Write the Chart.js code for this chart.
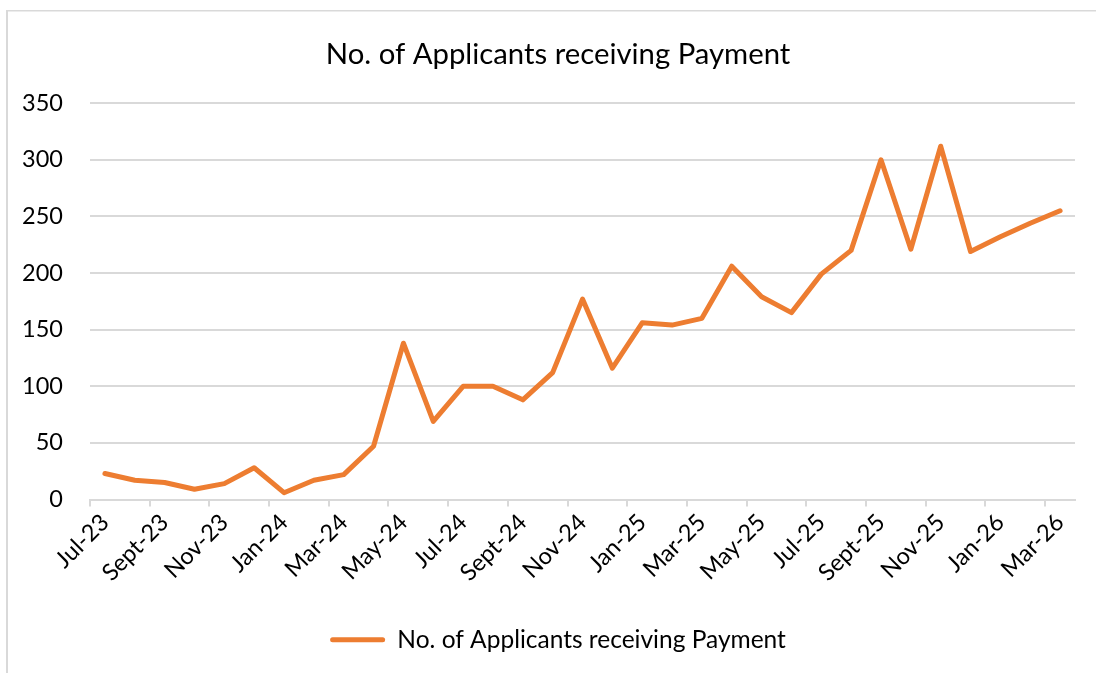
<!DOCTYPE html>
<html>
<head>
<meta charset="utf-8">
<script src="https://cdn.jsdelivr.net/npm/chart.js@4.4.1/dist/chart.umd.min.js"></script>
<style>
  html, body { margin: 0; padding: 0; background: #ffffff; }
  #wrap { position: relative; width: 1096px; height: 673px; }
  canvas { display: block; }
</style>
</head>
<body>
<div id="wrap"><canvas id="c" width="1096" height="673"></canvas></div>
<script>
const chartTitle = 'No. of Applicants receiving Payment';
const seriesName = 'No. of Applicants receiving Payment';
const months = ['Jul-23','Aug-23','Sept-23','Oct-23','Nov-23','Dec-23',
  'Jan-24','Feb-24','Mar-24','Apr-24','May-24','Jun-24','Jul-24','Aug-24','Sept-24','Oct-24','Nov-24','Dec-24',
  'Jan-25','Feb-25','Mar-25','Apr-25','May-25','Jun-25','Jul-25','Aug-25','Sept-25','Oct-25','Nov-25','Dec-25',
  'Jan-26','Feb-26','Mar-26'];
const applicants = [23,17,15,9,14,28,6,17,22,47,138,69,100,100,88,112,177,116,
  156,154,160,206,179,165,199,220,300,221,312,219,232,244,255];
const yTicks = [0,50,100,150,200,250,300,350];

const FONT = 'Lato, "Open Sans", sans-serif';
const ORANGE = '#ED7D31';
const GRID = '#d9d9d9';

const borderPlugin = {
  id: 'frame',
  beforeDraw(chart) {
    const ctx = chart.ctx;
    ctx.save();
    ctx.fillStyle = '#ffffff';
    ctx.fillRect(0, 0, chart.width, chart.height);
    ctx.fillStyle = GRID;
    ctx.fillRect(6, 10, 2, chart.height - 10);
    ctx.fillRect(6, 10, chart.width - 6, 1.5);
    ctx.restore();
  },
  afterLayout(chart) {
    // widen the y-axis label clip region so labels are not cut off
    if (chart.scales.y) chart.scales.y.left = 8;
  }
};

new Chart(document.getElementById('c'), {
  type: 'line',
  data: {
    labels: months,
    datasets: [{
      label: seriesName,
      data: applicants,
      borderColor: ORANGE,
      backgroundColor: ORANGE,
      borderWidth: 5,
      borderJoinStyle: 'round',
      borderCapStyle: 'round',
      pointRadius: 0,
      pointHoverRadius: 0,
      tension: 0,
      fill: false
    }]
  },
  options: {
    responsive: false,
    animation: false,
    devicePixelRatio: 1,
    layout: { padding: { left: 41, right: 21, top: 37, bottom: 11 } },
    plugins: {
      tooltip: { enabled: false },
      title: {
        display: true,
        text: chartTitle,
        color: '#000000',
        font: { family: FONT, size: 29.3, weight: 'normal' },
        padding: { top: 0, bottom: 31 }
      },
      legend: {
        display: true,
        position: 'bottom',
        labels: {
          color: '#000000',
          font: { family: FONT, size: 24.5 },
          boxWidth: 55,
          boxHeight: 5,
          padding: 10,
          generateLabels(chart) {
            const ds = chart.data.datasets[0];
            return [{
              text: ds.label,
              fillStyle: ORANGE,
              strokeStyle: ORANGE,
              lineWidth: 0,
              borderRadius: 2.5,
              fontColor: '#000000',
              hidden: false,
              datasetIndex: 0
            }];
          }
        }
      }
    },
    scales: {
      x: {
        type: 'category',
        offset: true,
        grid: {
          offset: true,
          drawOnChartArea: false,
          drawTicks: true,
          tickLength: 7,
          lineWidth: 2,
          color: (ctx) => (ctx.index !== undefined && ctx.index % 2 === 0 && ctx.type === 'tick') ? GRID : 'rgba(0,0,0,0)'
        },
        border: { display: true, color: GRID, width: 2 },
        ticks: {
          autoSkip: false,
          maxRotation: 45,
          minRotation: 45,
          padding: 2,
          color: '#000000',
          font: { family: FONT, size: 23.5 },
          callback: (v, i) => (i % 2 === 0 ? months[i] : '')
        },
        afterFit: (scale) => { scale.height = 118; }
      },
      y: {
        min: 0,
        max: 350,
        afterBuildTicks: (scale) => { scale.ticks = yTicks.map(v => ({ value: v })); },
        grid: {
          color: GRID,
          lineWidth: 2,
          drawTicks: false
        },
        border: { display: false },
        ticks: {
          padding: 27,
          color: '#000000',
          font: { family: FONT, size: 23.5 }
        },
        afterFit: (scale) => { scale.width = 49; }
      }
    }
  },
  plugins: [borderPlugin]
});
</script>
</body>
</html>
